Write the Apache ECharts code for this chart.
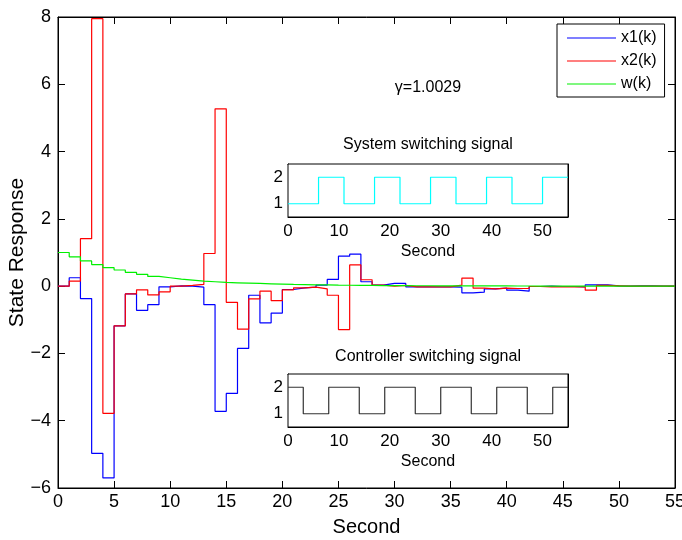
<!DOCTYPE html>
<html>
<head>
<meta charset="utf-8">
<script src="https://cdn.jsdelivr.net/npm/echarts@6/dist/echarts.min.js"></script>
<style>
  html, body { margin: 0; padding: 0; background: #fff; }
  #chart { width: 682px; height: 540px; }
</style>
</head>
<body>
<div id="chart"></div>
<script>
// state responses, one value per second k = 0..55 (held until k+1)
const x1 = [0, 0.25, -0.37, -4.97, -5.70, -1.18, -0.23, -0.72, -0.55, -0.02,
  0.01, 0, -0.03, -0.55, -3.72, -3.19, -1.85, -0.27, -1.09, -0.80,
  -0.10, -0.05, -0.03, 0.03, 0.20, 0.89, 0.95, 0.13, 0.03, 0.08,
  0.08, -0.02, -0.02, -0.02, -0.02, -0.03, -0.20, -0.18, -0.08, -0.06,
  -0.12, -0.15, -0.01, 0, -0.01, -0.01, -0.02, 0.04, 0.04, 0.01,
  0, 0.01, 0.01, 0, 0, 0]
const x2 = [0, 0.15, 1.41, 7.95, -3.78, -1.18, -0.23, -0.11, -0.26, -0.17,
  0, 0.02, 0.05, 0.97, 5.27, -0.48, -1.28, -0.38, -0.15, -0.43,
  -0.11, -0.05, -0.03, -0.08, -0.27, -1.29, 0.63, 0.19, 0.03, 0,
  0.02, -0.02, -0.02, -0.02, -0.02, 0.03, 0.24, -0.06, -0.08, -0.06,
  -0.07, -0.07, -0.01, -0.02, -0.02, -0.02, -0.02, -0.12, 0.02, 0.01,
  0, 0, 0, 0, 0, 0]
const w = [1.00, 0.87, 0.75, 0.64, 0.55, 0.48, 0.41, 0.35, 0.29, 0.25,
  0.21, 0.18, 0.15, 0.13, 0.11, 0.10, 0.09, 0.08, 0.07, 0.06,
  0.05, 0.045, 0.04, 0.035, 0.03, 0.027, 0.024, 0.021, 0.018, 0.016,
  0.014, 0.012, 0.011, 0.010, 0.009, 0.008, 0.007, 0.006, 0.005, 0.005,
  0.004, 0.004, 0.003, 0.003, 0.003, 0.002, 0.002, 0.002, 0.002, 0.001,
  0.001, 0.001, 0.001, 0.001, 0.001, 0.001]

// switching signals: switch instants and the mode held from each instant
const sysTimes = [0, 6, 11, 17, 22, 28, 33, 39, 44, 50, 55]
const sysModes = [1, 2, 1, 2, 1, 2, 1, 2, 1, 2, 2]
const ctrlTimes = [0, 3, 8, 14, 19, 25, 30, 36, 41, 47, 52, 55]
const ctrlModes = [2, 1, 2, 1, 2, 1, 2, 1, 2, 1, 2, 2]

const insetXTicks = [0, 10, 20, 30, 40, 50]
const insetYTicks = [1, 2]
const gammaText = 'γ=1.0029'

const FONT = '"Liberation Sans", Arial, sans-serif'
const minus = v => (v < 0 ? '\u2212' + Math.abs(v) : String(v))

const chart = echarts.init(document.getElementById('chart'), null, { renderer: 'canvas' })

// frame axis helper (ticks inside, MATLAB style)
const frameAxis = (grid, pos, min, max, interval, show, extra) => Object.assign({
  type: 'value', gridIndex: grid, position: pos, min, max, interval,
  axisLine: { show: true, onZero: false, lineStyle: { color: '#000', width: 1 } },
  axisTick: { show: true, inside: true, length: 6, lineStyle: { color: '#000' } },
  axisLabel: { show, color: '#000', fontSize: 18, margin: 5, fontFamily: FONT },
  splitLine: { show: false }
}, extra || {})

const insetTick = vals => ({ show: true, inside: true, length: 3, customValues: vals, lineStyle: { color: '#000' } })

const insetAxes = (grid) => ({
  x: [
    frameAxis(grid, 'bottom', 0, 55, 10, true, {
      name: 'Second', nameLocation: 'middle', nameGap: 27,
      nameTextStyle: { color: '#000', fontSize: 16, fontFamily: FONT },
      axisTick: insetTick(insetXTicks),
      axisLabel: { show: true, color: '#000', fontSize: 17, margin: 6, fontFamily: FONT, customValues: insetXTicks }
    }),
    frameAxis(grid, 'top', 0, 55, 10, false, { axisTick: insetTick(insetXTicks) })
  ],
  y: [
    frameAxis(grid, 'left', 0.5, 2.5, 0.5, true, {
      axisTick: insetTick(insetYTicks),
      axisLabel: { show: true, color: '#000', fontSize: 17, margin: 5, fontFamily: FONT, customValues: insetYTicks }
    }),
    frameAxis(grid, 'right', 0.5, 2.5, 0.5, false, { axisTick: insetTick(insetYTicks) })
  ]
})

const sysAxes = insetAxes(1)
const ctrlAxes = insetAxes(2)

const stairs = (vals) => vals.map((v, i) => [i, v])
const switching = (times, modes) => times.map((t, i) => [t, modes[i]])
const mainTick = { show: true, inside: true, length: 7, lineStyle: { color: '#000' } }

const option = {
  animation: false,
  backgroundColor: '#fff',
  textStyle: { fontFamily: FONT },
  grid: [
    { left: 58, top: 17, width: 617, height: 471, outerBoundsMode: 'none', containLabel: false,
      show: true, borderColor: '#000', borderWidth: 1, backgroundColor: '#fff' },
    { left: 288, top: 164, width: 280, height: 53, outerBoundsMode: 'none', containLabel: false,
      show: true, borderColor: '#000', borderWidth: 1, backgroundColor: '#fff', z: 5 },
    { left: 288, top: 374, width: 280, height: 53, outerBoundsMode: 'none', containLabel: false,
      show: true, borderColor: '#000', borderWidth: 1, backgroundColor: '#fff', z: 5 }
  ],
  legend: {
    left: 557, top: 24, orient: 'vertical',
    data: ['x1(k)', 'x2(k)', 'w(k)'],
    icon: 'rect', itemWidth: 49, itemHeight: 1, itemGap: 7,
    padding: [6, 8, 5, 10],
    borderColor: '#000', borderWidth: 1, backgroundColor: '#fff',
    textStyle: { color: '#000', fontSize: 16, fontFamily: FONT },
    selectedMode: false
  },
  xAxis: [
    frameAxis(0, 'bottom', 0, 55, 5, true, {
      name: 'Second', nameLocation: 'middle', nameGap: 29,
      nameTextStyle: { color: '#000', fontSize: 20, fontFamily: FONT },
      axisTick: mainTick
    }),
    frameAxis(0, 'top', 0, 55, 5, false, { axisTick: mainTick }),
    ...sysAxes.x,
    ...ctrlAxes.x
  ],
  yAxis: [
    frameAxis(0, 'left', -6, 8, 2, true, {
      name: 'State Response', nameLocation: 'middle', nameGap: 30, nameMoveOverlap: false,
      nameTextStyle: { color: '#000', fontSize: 21, fontFamily: FONT },
      axisTick: mainTick,
      axisLabel: { show: true, color: '#000', fontSize: 18, margin: 7, fontFamily: FONT, formatter: minus }
    }),
    frameAxis(0, 'right', -6, 8, 2, false, { axisTick: mainTick }),
    ...sysAxes.y,
    ...ctrlAxes.y
  ],
  series: [
    { name: 'x1(k)', type: 'line', step: 'end', xAxisIndex: 0, yAxisIndex: 0, data: stairs(x1),
      symbol: 'none', lineStyle: { color: '#0000ff', width: 1.2 }, itemStyle: { color: '#0000ff' } },
    { name: 'x2(k)', type: 'line', step: 'end', xAxisIndex: 0, yAxisIndex: 0, data: stairs(x2),
      symbol: 'none', lineStyle: { color: '#ff0000', width: 1.2 }, itemStyle: { color: '#ff0000' } },
    { name: 'w(k)', type: 'line', step: 'end', xAxisIndex: 0, yAxisIndex: 0, data: stairs(w),
      symbol: 'none', lineStyle: { color: '#00f000', width: 1.2 }, itemStyle: { color: '#00f000' } },
    { name: 'system', type: 'line', step: 'end', xAxisIndex: 2, yAxisIndex: 2, data: switching(sysTimes, sysModes),
      symbol: 'none', z: 6, lineStyle: { color: '#00ffff', width: 1.2 } },
    { name: 'controller', type: 'line', step: 'end', xAxisIndex: 4, yAxisIndex: 4, data: switching(ctrlTimes, ctrlModes),
      symbol: 'none', z: 6, lineStyle: { color: '#333', width: 1.2 } }
  ],
  graphic: [
    { type: 'text', x: 428, y: 88, style: { text: gammaText, fill: '#000', font: '16px ' + FONT, align: 'center', verticalAlign: 'middle' } },
    { type: 'text', x: 428, y: 145, z: 10, style: { text: 'System switching signal', fill: '#000', font: '16px ' + FONT, align: 'center', verticalAlign: 'middle' } },
    { type: 'text', x: 428, y: 357, z: 10, style: { text: 'Controller switching signal', fill: '#000', font: '16px ' + FONT, align: 'center', verticalAlign: 'middle' } }
  ]
}

chart.setOption(option)
</script>
</body>
</html>
